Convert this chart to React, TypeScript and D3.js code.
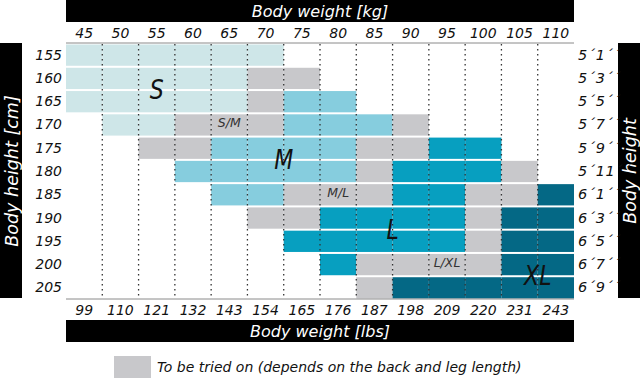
import React from 'react';
import * as d3 from 'd3';

const weightsKg = [45, 50, 55, 60, 65, 70, 75, 80, 85, 90, 95, 100, 105, 110];
const weightsLbs = [99, 110, 121, 132, 143, 154, 165, 176, 187, 198, 209, 220, 231, 243];
const heightsCm = [155, 160, 165, 170, 175, 180, 185, 190, 195, 200, 205];
const heightsFt = ['5´1´´', '5´3´´', '5´5´´', '5´7´´', '5´9´´', '5´11´´', '6´1´´', '6´3´´', '6´5´´', '6´7´´', '6´9´´'];

// one code per weight column: S, M, L, X (XL), G (to be tried on), . (none)
const sizeRows = [
  'SSSSSS........',
  'SSSSSGG.......',
  'SSSSSGMM......',
  '.SSGGGMMMG....',
  '..GGMMMMGGLL..',
  '...MMMMMGLLLG.',
  '....MMGGGLLGGX',
  '.....GGLLLLGXX',
  '......LLLLLGXX',
  '.......LGGGGXX',
  '........GXXXXX',
];

const bigLabels = [
  { text: 'S', kg: 55, cm: 162.5 },
  { text: 'M', kg: 72.5, cm: 177.5 },
  { text: 'L', kg: 87.5, cm: 192.5 },
  { text: 'XL', kg: 107.5, cm: 202.5 },
];
const smallLabels = [
  { text: 'S/M', kg: 65, cm: 170 },
  { text: 'M/L', kg: 80, cm: 185 },
  { text: 'L/XL', kg: 95, cm: 200 },
];

const colors: Record<string, string> = {
  S: '#cee6e8',
  M: '#86cdde',
  L: '#079fc0',
  X: '#046885',
  G: '#c8c8cb',
};

const FONT = "'DejaVu Sans', sans-serif";

export default function App() {
  const W = 640, H = 379;
  const gx0 = 66, gx1 = 574, gy0 = 43, gy1 = 299;
  const x = d3.scaleBand<number>().domain(weightsKg).range([gx0, gx1]);
  const y = d3.scaleBand<number>().domain(heightsCm).range([gy0, gy1]);
  const xl = d3.scaleLinear().domain([42.5, 112.5]).range([gx0, gx1]);
  const yl = d3.scaleLinear().domain([152.5, 207.5]).range([gy0, gy1]);
  const bw = x.bandwidth();
  const bh = y.bandwidth();

  const cells: { k: string; c: string; x: number; y: number }[] = [];
  sizeRows.forEach((row, ri) => {
    row.split('').forEach((c, ci) => {
      if (c !== '.') cells.push({ k: `${ri}-${ci}`, c, x: x(weightsKg[ci])!, y: y(heightsCm[ri])! });
    });
  });

  const boundaries = weightsKg.slice(1).map((w) => x(w)!);

  return (
    <svg width={W} height={H} style={{ position: 'absolute', left: 0, top: 0, background: '#fff' }}
      fontFamily={FONT} fontStyle="italic">
      {/* top bar */}
      <rect x={gx0} y={0} width={gx1 - gx0} height={22} fill="#000" />
      <text x={(gx0 + gx1) / 2} y={17} fill="#fff" fontSize={16} textAnchor="middle">Body weight [kg]</text>
      {/* bottom bar */}
      <rect x={gx0} y={320} width={gx1 - gx0} height={22} fill="#000" />
      <text x={(gx0 + gx1) / 2} y={337} fill="#fff" fontSize={16} textAnchor="middle">Body weight [lbs]</text>
      {/* side bars */}
      <rect x={0} y={gy0} width={22} height={gy1 - gy0 - 1} fill="#000" />
      <text transform={`translate(17.5,${(gy0 + gy1) / 2}) rotate(-90)`} fill="#fff" fontSize={17.5} textAnchor="middle">Body height [cm]</text>
      <rect x={618} y={gy0} width={22} height={gy1 - gy0 - 1} fill="#000" />
      <text transform={`translate(635.5,${(gy0 + gy1) / 2}) rotate(-90)`} fill="#fff" fontSize={17.5} textAnchor="middle">Body height</text>

      {/* cells */}
      {cells.map((d) => (
        <rect key={d.k} x={d.x} y={d.y + 1.5} width={bw} height={bh - 2} fill={colors[d.c]} />
      ))}

      {/* grid lines */}
      <line x1={gx0} x2={gx1} y1={gy0} y2={gy0} stroke="#8a8a8a" strokeWidth={1} />
      <line x1={gx0} x2={gx1} y1={gy1} y2={gy1} stroke="#8a8a8a" strokeWidth={1} />
      {boundaries.map((bx, i) => (
        <line key={i} x1={bx} x2={bx} y1={gy0 + 1} y2={gy1} stroke="#333" strokeWidth={1.3} strokeDasharray="1.5,3.5" />
      ))}

      {/* tick labels */}
      {weightsKg.map((w) => (
        <text key={'k' + w} x={x(w)! + bw / 2} y={38} fontSize={14} textAnchor="middle" fill="#111">{w}</text>
      ))}
      {weightsLbs.map((w, i) => (
        <text key={'l' + w} x={x(weightsKg[i])! + bw / 2} y={315} fontSize={14} textAnchor="middle" fill="#111">{w}</text>
      ))}
      {heightsCm.map((h) => (
        <text key={'c' + h} x={62} y={y(h)! + bh / 2 + 5} fontSize={14} textAnchor="end" fill="#111">{h}</text>
      ))}
      {heightsFt.map((h, i) => (
        <text key={'f' + i} x={578} y={y(heightsCm[i])! + bh / 2 + 5} fontSize={14.5} letterSpacing={0.6} textAnchor="start" fill="#111">{h}</text>
      ))}

      {/* size labels */}
      {bigLabels.map((l) => (
        <text key={l.text} transform={`translate(${xl(l.kg)},${yl(l.cm)}) scale(0.85,1)`} dy="0.36em" fontSize={26} fontWeight={300} textAnchor="middle" fill="#111">{l.text}</text>
      ))}
      {smallLabels.map((l) => (
        <text key={l.text} x={xl(l.kg)} y={yl(l.cm) - 1.5} dy="0.36em" fontSize={12.5} textAnchor="middle" fill="#333">{l.text}</text>
      ))}

      {/* legend */}
      <rect x={114} y={356} width={37} height={22} fill={colors.G} />
      <text x={157} y={372} fontSize={14} fill="#111">To be tried on (depends on the back and leg length)</text>
    </svg>
  );
}
